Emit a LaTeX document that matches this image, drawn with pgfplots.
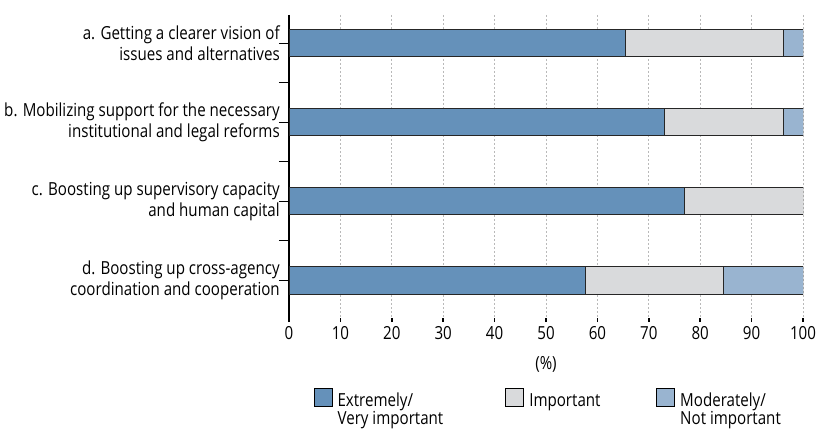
\documentclass[border=0pt]{standalone}
\usepackage{pgfplots}
\pgfplotsset{compat=1.18}
\usepackage{fontspec}
\setmainfont{Open Sans}[FakeStretch=0.84]
\definecolor{c1}{RGB}{101,145,186}
\definecolor{c2}{RGB}{217,218,220}
\definecolor{c3}{RGB}{153,180,208}
\newcommand{\lf}{\fontsize{13.5}{15.75}\selectfont}
\newcommand{\legf}{\fontsize{13.5}{13.25}\selectfont}
\begin{document}
\begin{tikzpicture}
\useasboundingbox (0,0) rectangle (612pt,321pt);
\begin{axis}[
  at={(216.75pt,79.5pt)}, anchor=south west,
  scale only axis, width=385.5pt, height=230.25pt,
  xbar stacked, bar width=20.5pt,
  xmin=0, xmax=100, xtick={0,10,...,100},
  ymin=-0.354, ymax=3.527, y dir=reverse,
  ytick={0.5,1.5,2.5}, yticklabels={},
  extra y ticks={0,1,2,3},
  extra y tick labels={{a. Getting a clearer vision of\\issues and alternatives},
               {b. Mobilizing support for the necessary\\institutional and legal reforms},
               {c. Boosting up supervisory capacity\\and human capital},
               {d. Boosting up cross-agency\\coordination and cooperation}},
  extra y tick style={tick style={draw=none}},
  axis lines*=left,
  axis line style={-},
  x axis line style={draw=none},
  y axis line style={line width=1.5pt},
  xtick align=inside, ytick align=outside,
  major tick length=7.5pt,
  ytick style={draw=black, line width=0.75pt},
  xtick style={draw=black, line width=1.3pt, dash pattern=on 3pt off 20pt},
  xmajorgrids, grid style={gray!55, line width=0.5pt, dash pattern=on 1.5pt off 1.5pt},
  /pgf/number format/assume math mode=true,
  tick label style={font=\lf},
  yticklabel style={align=right, inner xsep=0pt, xshift=0.75pt},
  xlabel={(\%)}, xlabel style={font=\lf, yshift=-5.5pt},
  legend columns=3,
  legend style={at={(axis description cs:0.0473,-0.213)}, anchor=north west,
    draw=none, inner sep=0pt, font=\legf,
    nodes={inner sep=0pt},
    /tikz/every odd column/.append style={column sep=3.8pt}},
  legimg/.style={legend image code/.code={\draw[##1,draw=black,line width=0.7pt] (0pt,-4pt) rectangle (13.5pt,9.5pt);}},
]
\addplot[fill=c1, draw=black!85, line width=0.7pt, legimg] coordinates {(65.4,0) (73.1,1) (76.9,2) (57.7,3)};
\addplot[fill=c2, draw=black!85, line width=0.7pt, legimg] coordinates {(30.8,0) (23.1,1) (23.1,2) (26.9,3)};
\addplot[fill=c3, draw=black!85, line width=0.7pt, legimg] coordinates {(3.8,0) (3.8,1) (0,2) (15.4,3)};
\addlegendentry{\parbox[t]{125.8pt}{Extremely/\\Very important}}
\addlegendentry{\parbox[t]{95.2pt}{Important}}
\addlegendentry{\parbox[t]{80pt}{Moderately/\\Not important}}
\end{axis}
\end{tikzpicture}
\end{document}
